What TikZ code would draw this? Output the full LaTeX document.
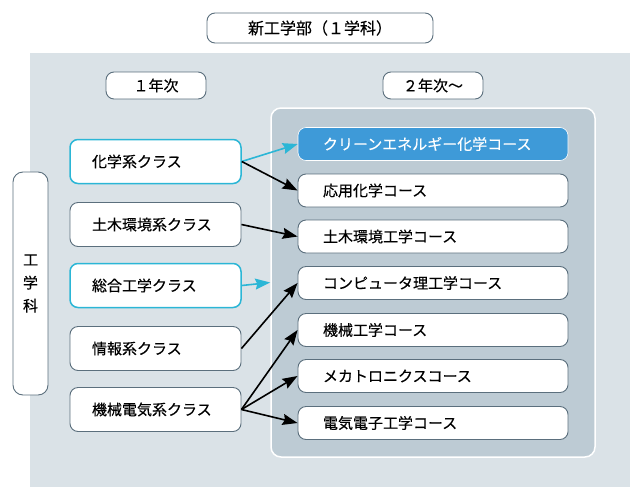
\documentclass[tikz,border=0pt]{standalone}
\usepackage{fontspec}
\setmainfont{Noto Sans CJK JP}[FakeBold=0.4]
\usetikzlibrary{arrows.meta}
\definecolor{panelbg}{HTML}{DAE2E7}
\definecolor{innerbg}{HTML}{BDCBD4}
\definecolor{boxline}{HTML}{5B6F7D}
\definecolor{cyanline}{HTML}{2BB6D6}
\definecolor{cleanblue}{HTML}{3E9AD8}
\begin{document}
\begin{tikzpicture}[x=1pt,y=-1pt,
	box/.style={draw=boxline,line width=0.9pt,fill=white,rounded corners=8pt,inner sep=0pt,font=\fontsize{15}{17}\selectfont},
	cls/.style={box,minimum width=171pt,minimum height=44pt,text width=127pt,align=left,inner xsep=22pt},
	crs/.style={box,minimum width=270pt,minimum height=33pt,text width=220pt,align=left,inner xsep=25pt},
	pick/.style={draw=cyanline,line width=1.5pt},
	arr/.style={line width=1.6pt,-{Stealth[length=15pt,width=11pt,inset=2pt]}}]
	    \useasboundingbox (0,0) rectangle (644,498);
	    \fill[panelbg] (30,53) rectangle (630,487);
	    \node[draw=white,line width=1.5pt,fill=innerbg,rounded corners=10pt,minimum width=324pt,minimum height=349pt] (courses) at (433,282.5) {};
	    \node[box,minimum width=226pt,minimum height=30pt,font=\fontsize{16}{18}\selectfont] (dept) at (320,28) {新工学部（１学科）};
	    \node[box,minimum width=100pt,minimum height=27pt] (yr1) at (156,85.5) {１年次};
	    \node[box,minimum width=100pt,minimum height=27pt] (yr2) at (433,85.5) {２年次～};
	    \node[box,rounded corners=10pt,minimum width=35pt,minimum height=223pt,align=center,font=\fontsize{15}{23}\selectfont] (eng) at (30.5,283.5) {工\\学\\科};
	    \node[cls,pick] (chem) at (155.5,161.5) {化学系クラス};
	    \node[cls] (civil) at (155.5,224.5) {土木環境系クラス};
	    \node[cls,pick] (general) at (155.5,285.5) {総合工学クラス};
	    \node[cls] (info) at (155.5,348.5) {情報系クラス};
	    \node[cls] (mech) at (155.5,409.5) {機械電気系クラス};
	    \node[crs,draw=white,line width=0.6pt,fill=cleanblue,text=white] (clean) at (433,144) {クリーンエネルギー化学コース};
	    \node[crs] (appchem) at (433,190.5) {応用化学コース};
	    \node[crs] (civileng) at (433,236.5) {土木環境工学コース};
	    \node[crs] (comp) at (433,283) {コンピュータ理工学コース};
	    \node[crs] (mecheng) at (433,330) {機械工学コース};
	    \node[crs] (mecha) at (433,376) {メカトロニクスコース};
	    \node[crs] (elec) at (433,423) {電気電子工学コース};
	    \draw[arr,cyanline] (chem.east) -- (clean.west);
	    \draw[arr] (chem.east) -- (appchem.west);
	    \draw[arr] (civil.east) -- (civileng.west);
	    \draw[arr,cyanline] (general.east) -- (courses.west);
	    \draw[arr] (info.east) -- (comp.west);
	    \draw[arr] (mech.east) -- (mecheng.west);
	    \draw[arr] (mech.east) -- (mecha.west);
	    \draw[arr] (mech.east) -- (elec.west);
	\end{tikzpicture}
\end{document}
